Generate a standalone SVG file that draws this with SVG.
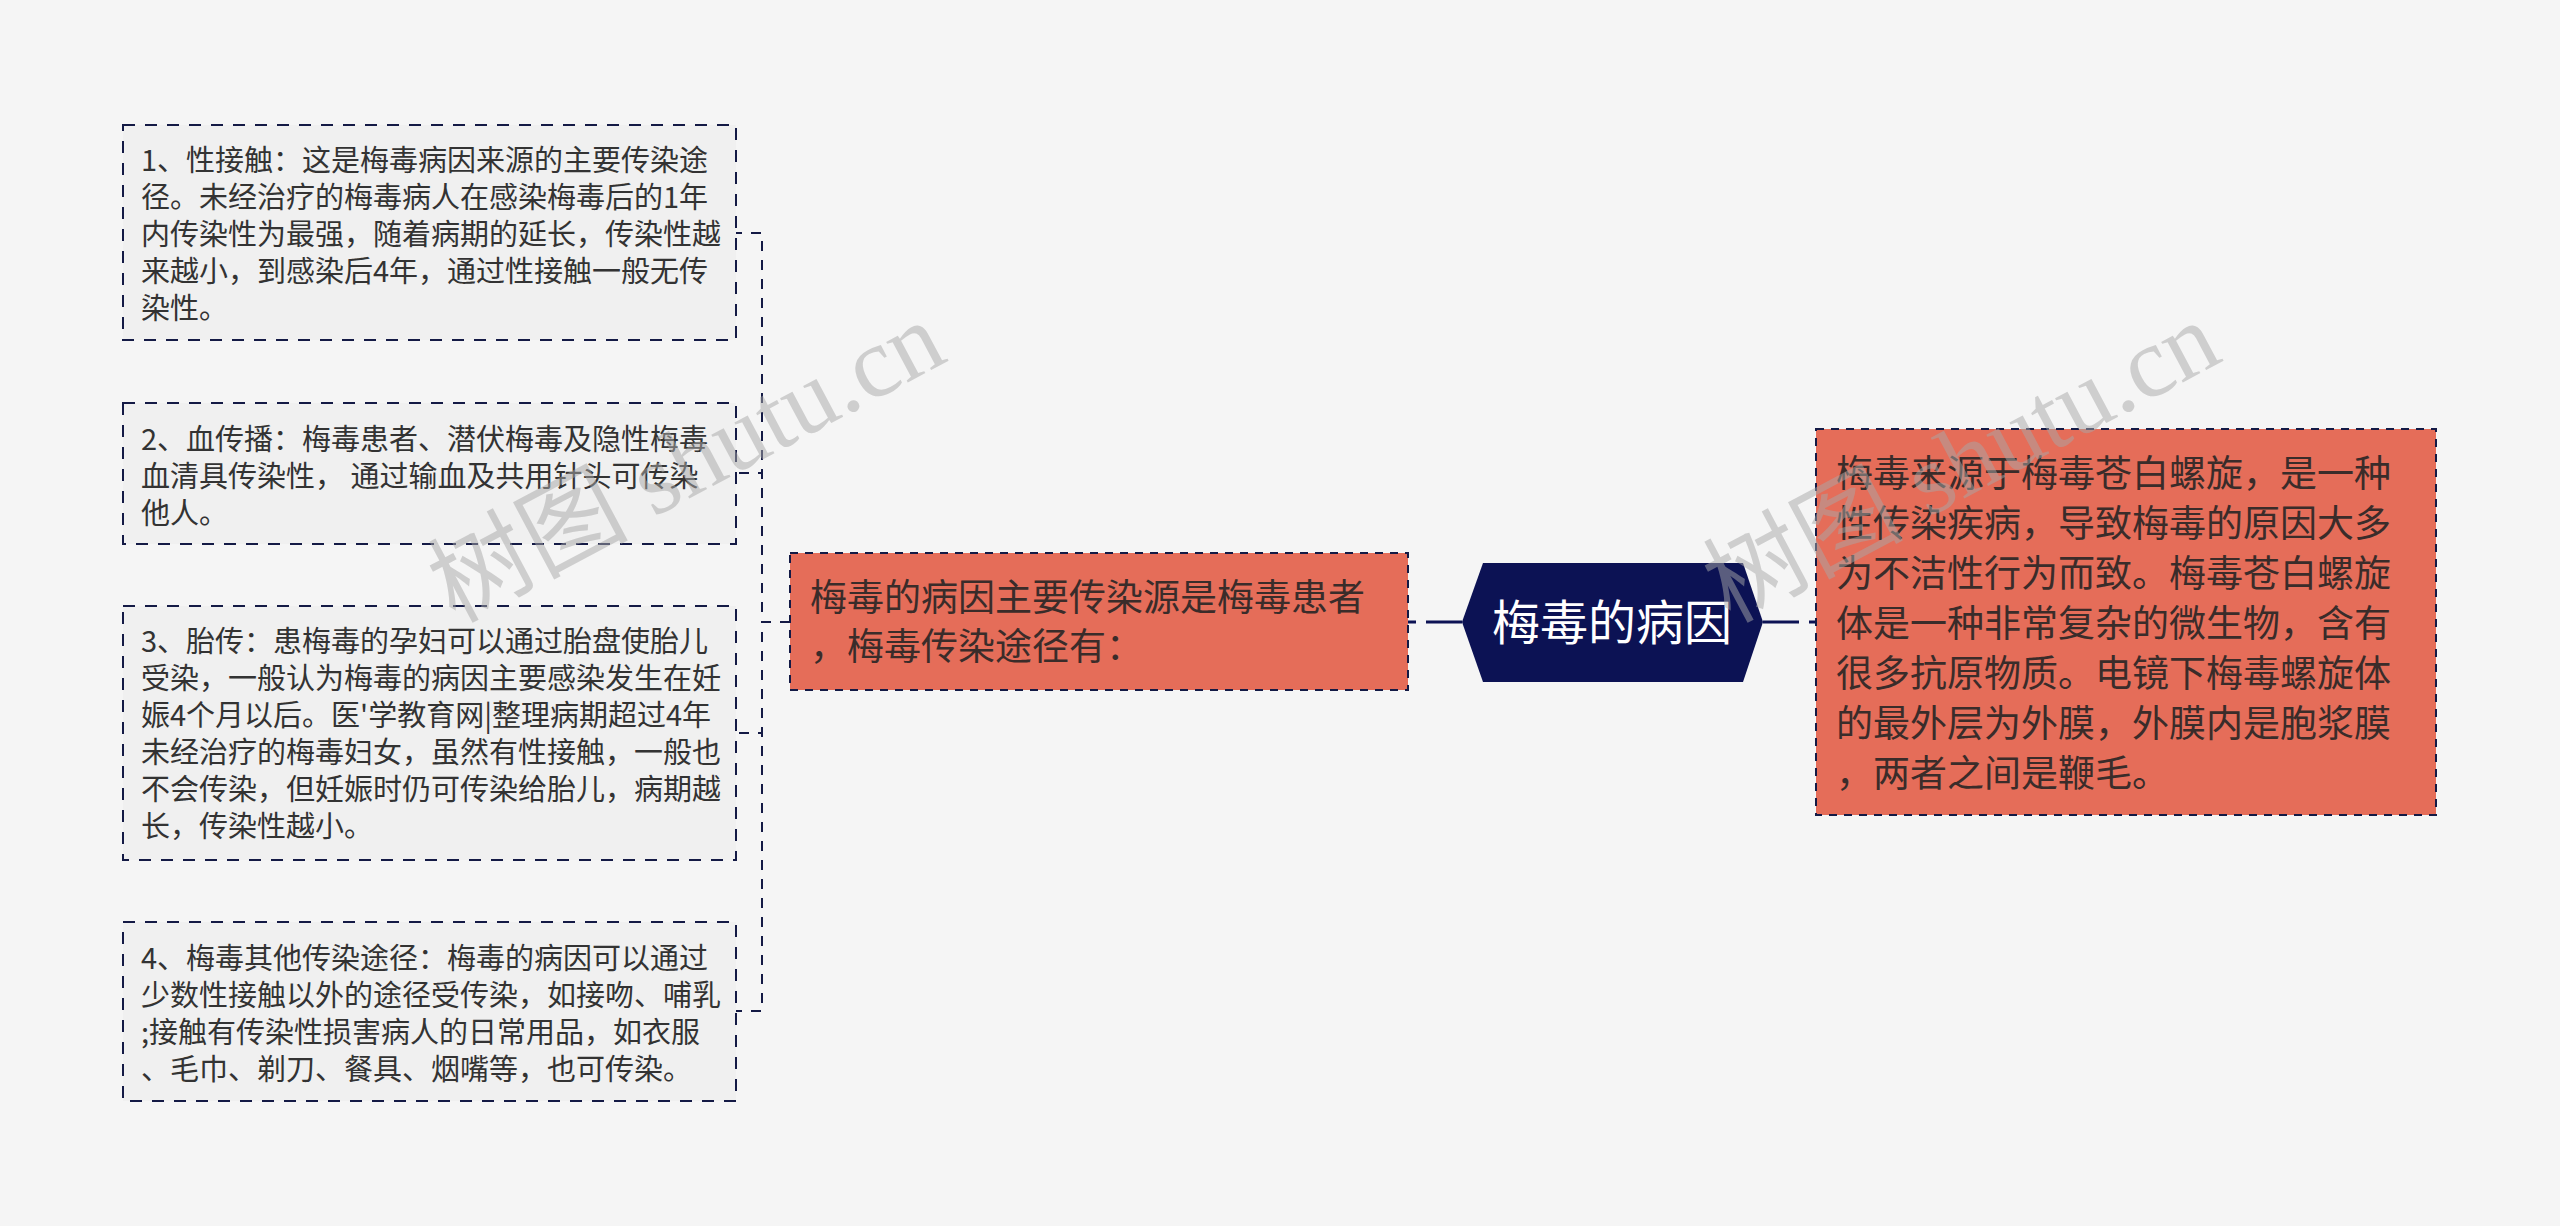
<svg xmlns="http://www.w3.org/2000/svg" width="2560" height="1226" viewBox="0 0 2560 1226">
<style>
  .bg { fill: #f5f5f5; }
  .leaf { fill: #f0f0f0; stroke: #141a45; stroke-width: 2; stroke-dasharray: 12 10; }
  .orange { fill: #e56d59; stroke: #141a45; stroke-width: 2; stroke-dasharray: 8 7; }
  .hex { fill: #0c1254; }
  .t29 { font-family: "Noto Sans CJK SC", "Liberation Sans", sans-serif; font-size: 29px; fill: #333333; }
  .t37 { font-family: "Noto Sans CJK SC", "Liberation Sans", sans-serif; font-size: 37px; fill: #3a2c2a; }
  .title { font-family: "Noto Sans CJK SC", "Liberation Sans", sans-serif; font-size: 48px; fill: #ffffff; }
  .thin { fill: none; stroke: #141a45; stroke-width: 2; stroke-dasharray: 10 9; }
  .thick { fill: none; stroke: #0c1254; stroke-width: 3; stroke-dasharray: 36 10; }
  .wm { font-family: "Liberation Serif", "Noto Sans CJK SC", serif; font-size: 100px; fill: #a8a8a8; opacity: 0.5; }
</style>
<rect class="bg" x="0" y="0" width="2560" height="1226"/>

<g id="connectors">
  <path class="thin" d="M790,622 H762 V233 H736"/>
  <path class="thin" d="M790,622 H762 V473 H736"/>
  <path class="thin" d="M790,622 H762 V733 H736"/>
  <path class="thin" d="M790,622 H762 V1011 H736"/>
  <path class="thick" d="M1462,622 H1408"/>
  <path class="thick" d="M1763,622 H1816"/>
</g>

<g id="node-sex">
  <rect class="leaf" x="123" y="125" width="613" height="215"/>
  <text class="t29" x="141">
    <tspan x="141" y="171">1、性接触：这是梅毒病因来源的主要传染途</tspan>
    <tspan x="141" y="208">径。未经治疗的梅毒病人在感染梅毒后的1年</tspan>
    <tspan x="141" y="245">内传染性为最强，随着病期的延长，传染性越</tspan>
    <tspan x="141" y="282">来越小，到感染后4年，通过性接触一般无传</tspan>
    <tspan x="141" y="319">染性。</tspan>
  </text>
</g>

<g id="node-blood">
  <rect class="leaf" x="123" y="403" width="613" height="141"/>
  <text class="t29" x="141">
    <tspan x="141" y="450">2、血传播：梅毒患者、潜伏梅毒及隐性梅毒</tspan>
    <tspan x="141" y="487">血清具传染性， 通过输血及共用针头可传染</tspan>
    <tspan x="141" y="524">他人。</tspan>
  </text>
</g>

<g id="node-fetal">
  <rect class="leaf" x="123" y="606" width="613" height="254"/>
  <text class="t29" x="141">
    <tspan x="141" y="652">3、胎传：患梅毒的孕妇可以通过胎盘使胎儿</tspan>
    <tspan x="141" y="689">受染，一般认为梅毒的病因主要感染发生在妊</tspan>
    <tspan x="141" y="726">娠4个月以后。医'学教育网|整理病期超过4年</tspan>
    <tspan x="141" y="763">未经治疗的梅毒妇女，虽然有性接触，一般也</tspan>
    <tspan x="141" y="800">不会传染，但妊娠时仍可传染给胎儿，病期越</tspan>
    <tspan x="141" y="837">长，传染性越小。</tspan>
  </text>
</g>

<g id="node-other">
  <rect class="leaf" x="123" y="922" width="613" height="179"/>
  <text class="t29" x="141">
    <tspan x="141" y="969">4、梅毒其他传染途径：梅毒的病因可以通过</tspan>
    <tspan x="141" y="1006">少数性接触以外的途径受传染，如接吻、哺乳</tspan>
    <tspan x="141" y="1043">;接触有传染性损害病人的日常用品，如衣服</tspan>
    <tspan x="141" y="1080">、毛巾、剃刀、餐具、烟嘴等，也可传染。</tspan>
  </text>
</g>

<g id="node-source">
  <rect class="orange" x="790" y="553" width="618" height="137"/>
  <text class="t37">
    <tspan x="810" y="611">梅毒的病因主要传染源是梅毒患者</tspan>
    <tspan x="810" y="660">，梅毒传染途径有：</tspan>
  </text>
</g>

<g id="node-root">
  <polygon class="hex" points="1462,622 1483,563 1743,563 1763,622 1743,682 1483,682"/>
  <text class="title" x="1612" y="640" text-anchor="middle">梅毒的病因</text>
</g>

<g id="node-origin">
  <rect class="orange" x="1816" y="429" width="620" height="386"/>
  <text class="t37">
    <tspan x="1836" y="487">梅毒来源于梅毒苍白螺旋，是一种</tspan>
    <tspan x="1836" y="537">性传染疾病，导致梅毒的原因大多</tspan>
    <tspan x="1836" y="587">为不洁性行为而致。梅毒苍白螺旋</tspan>
    <tspan x="1836" y="637">体是一种非常复杂的微生物，含有</tspan>
    <tspan x="1836" y="687">很多抗原物质。电镜下梅毒螺旋体</tspan>
    <tspan x="1836" y="737">的最外层为外膜，外膜内是胞浆膜</tspan>
    <tspan x="1836" y="787">，两者之间是鞭毛。</tspan>
  </text>
</g>

<g id="watermarks">
  <text class="wm" transform="translate(950,360) rotate(-28)" text-anchor="end">树图 shutu.cn</text>
  <text class="wm" transform="translate(2225,360) rotate(-28)" text-anchor="end">树图 shutu.cn</text>
</g>
</svg>
